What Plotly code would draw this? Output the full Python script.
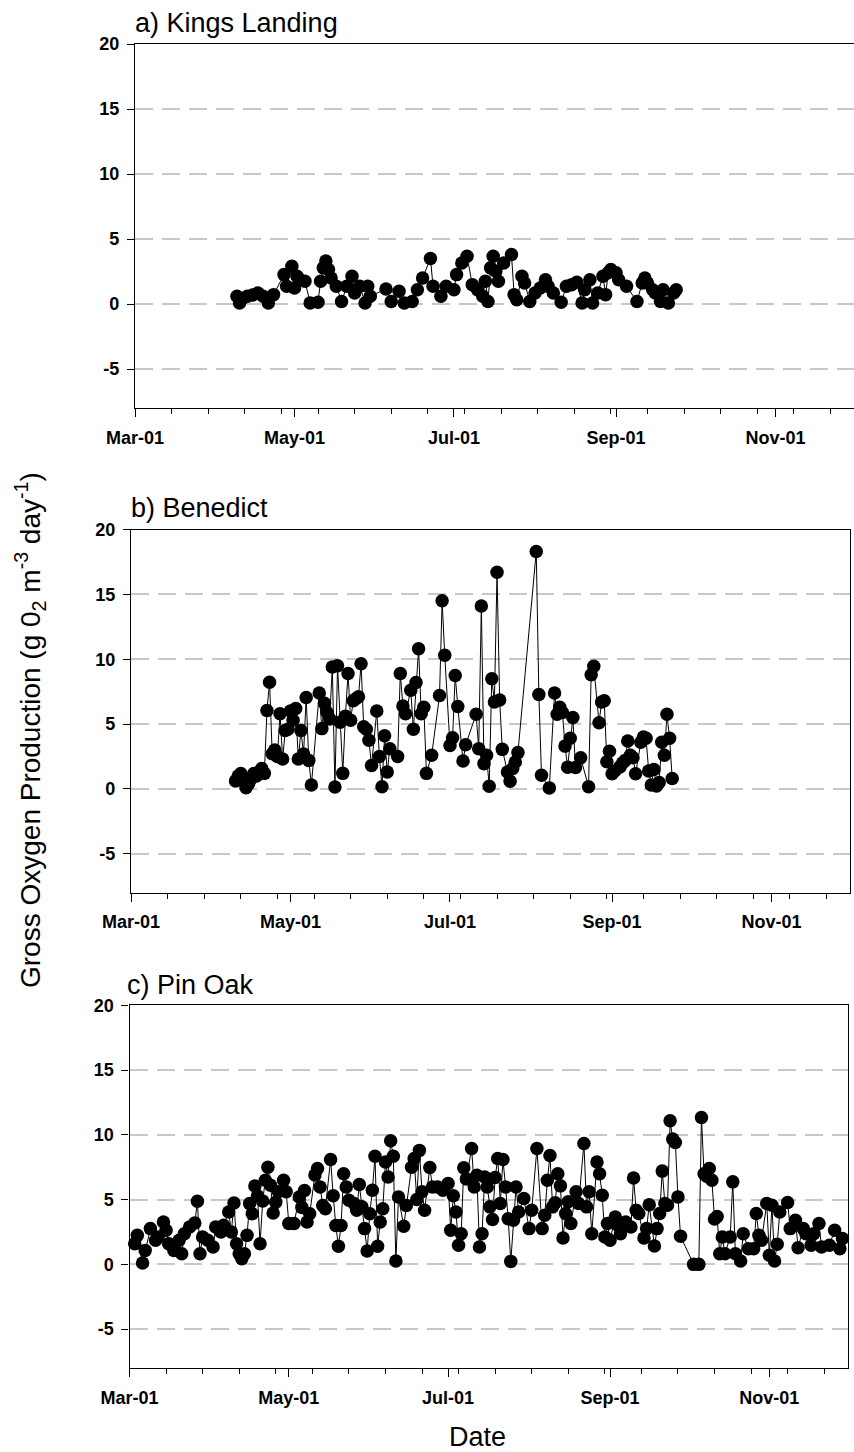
import pandas as pd
import plotly.graph_objects as go

# ---------------- data (day offset from Mar-01, GOP value) ----------------
kl_day = [39, 40, 41, 43, 45, 47, 49, 51, 53,
          57, 58, 60, 61, 62, 63, 65, 67,
          70, 71, 72, 73, 74, 75, 77, 79,
          81, 83, 84, 86, 88, 89, 90,
          96, 98, 101, 103, 106, 108, 110, 113, 114,
          117, 119, 122, 123, 125, 127, 129, 131,
          133, 134, 135, 136, 137, 138, 139, 141,
          144, 145, 146, 148, 149, 151, 153, 155,
          157, 158, 160, 163, 165, 167, 169, 171,
          172, 174, 175, 177, 179, 180, 181, 182,
          184, 185, 188, 192, 194, 195, 196, 198,
          199, 201, 202, 204, 206, 207]
kl_gop = [0.6, 0.08, 0.4, 0.6, 0.7, 0.85, 0.6, 0.08, 0.72,
          2.26, 1.36, 2.9, 1.23, 2.13, 1.87, 1.75, 0.08,
          0.13, 1.75, 2.78, 3.3, 2.65, 2.0, 1.36, 0.2,
          1.36, 2.13, 0.85, 1.36, 0.08, 1.36, 0.6,
          1.16, 0.2, 0.98, 0.08, 0.2, 1.1, 2.0, 3.5, 1.36,
          0.6, 1.36, 1.1, 2.26, 3.16, 3.68, 1.49, 1.1,
          0.6, 1.75, 0.2, 2.78, 3.68, 2.52, 1.75, 3.16,
          3.8, 0.72, 0.33, 2.13, 1.62, 0.2, 0.85, 1.23,
          1.87, 1.36, 0.85, 0.13, 1.36, 1.49, 1.67, 0.08,
          1.1, 1.87, 0.08, 0.85, 2.13, 0.72, 2.4, 2.65,
          2.4, 1.87, 1.36, 0.2, 1.62, 2.0, 1.62, 1.1,
          0.85, 0.2, 1.1, 0.08, 0.85, 1.1]

bn_day = [40, 41, 42, 43, 44, 45, 46, 47, 48, 49, 50, 51,
          52, 53, 54, 55, 56, 57, 58, 59, 60, 61, 62, 63,
          64, 65, 66, 67, 68, 69, 72, 73, 74, 75, 76, 77,
          78, 79, 80, 81, 82, 83, 84, 85, 86, 87, 88, 89,
          90, 91, 92, 94, 95, 96, 97, 98, 99, 102, 103, 104,
          105, 107, 108, 109, 110, 111, 112, 113, 115, 118, 119, 120,
          122, 123, 124, 125, 127, 128, 132, 133, 134, 135, 136, 137,
          138, 139, 140, 141, 142, 144, 145, 146, 147, 148, 155, 156,
          157, 160, 162, 163, 164, 165, 166, 167, 168, 169, 170, 172,
          175, 176, 177, 179, 180, 181, 182, 183, 184, 185, 187, 188,
          189, 190, 191, 192, 193, 195, 196, 197, 198, 199, 200, 201,
          202, 203, 204, 205, 206, 207]
bn_gop = [0.62, 1.0, 1.18, 0.6, 0.1, 0.41, 0.8, 1.18, 1.0, 1.3, 1.57, 1.2,
          6.05, 8.23, 2.72, 3.0, 2.5, 5.8, 2.3, 4.5, 4.6, 6.0, 5.3, 6.2,
          2.3, 4.5, 2.7, 7.05, 2.2, 0.3, 7.4, 4.65, 6.6, 5.9, 5.4, 9.4,
          0.15, 9.5, 5.15, 1.2, 5.6, 8.9, 5.3, 6.8, 6.95, 7.1, 9.65, 4.8,
          4.6, 3.75, 1.8, 6.0, 2.5, 0.17, 4.1, 1.3, 3.1, 2.5, 8.9, 6.4,
          5.8, 7.6, 4.6, 8.2, 10.8, 5.8, 6.3, 1.2, 2.6, 7.2, 14.5, 10.3,
          3.35, 3.95, 8.75, 6.35, 2.15, 3.4, 5.75, 3.1, 14.1, 1.95, 2.6, 0.2,
          8.5, 6.7, 16.7, 6.85, 3.05, 1.3, 0.6, 1.57, 2.08, 2.8, 18.3, 7.28,
          1.05, 0.08, 7.4, 5.75, 6.3, 5.9, 3.3, 1.68, 3.9, 5.5, 1.65, 2.4,
          0.16, 8.8, 9.45, 5.1, 6.7, 6.8, 2.1, 2.9, 1.17, 1.38, 1.7, 2.0,
          2.2, 3.7, 2.6, 2.4, 1.17, 3.6, 4.0, 3.9, 1.38, 0.3, 1.5, 0.22,
          0.5, 3.6, 2.6, 5.75, 3.9, 0.8]

po_day = [2, 3, 5, 6, 8, 10, 11, 13, 14, 15, 17, 19,
          20, 21, 23, 25, 26, 27, 28, 30, 32, 33, 35, 36,
          38, 39, 40, 41, 42, 43, 44, 45, 46, 47, 48, 49,
          50, 51, 52, 53, 54, 55, 56, 57, 59, 60, 61, 63,
          65, 66, 67, 68, 69, 71, 72, 73, 74, 75, 77, 78,
          79, 80, 81, 82, 83, 84, 86, 87, 88, 89, 90, 91,
          92, 93, 94, 95, 96, 97, 98, 99, 100, 101, 102, 103,
          105, 106, 108, 109, 110, 111, 112, 113, 115, 116, 118, 120,
          122, 123, 124, 125, 126, 127, 128, 129, 131, 132, 133, 134,
          135, 136, 137, 138, 139, 140, 141, 142, 143, 144, 145, 146,
          147, 148, 149, 151, 153, 154, 156, 158, 159, 160, 161, 162,
          163, 164, 165, 166, 167, 168, 169, 171, 172, 174, 175, 176,
          177, 179, 180, 181, 182, 183, 184, 186, 187, 188, 190, 192,
          193, 194, 195, 197, 198, 199, 201, 202, 203, 204, 205, 206,
          207, 208, 209, 210, 211, 216, 218, 219, 220, 221, 222, 223,
          224, 225, 226, 227, 228, 230, 231, 232, 234, 235, 237, 239,
          240, 241, 242, 244, 245, 246, 247, 248, 249, 252, 253, 255,
          256, 258, 259, 261, 262, 264, 265, 268, 270, 272, 273]
po_gop = [1.6, 2.24, 0.1, 1.08, 2.76, 1.86, 2.11, 3.27, 2.63, 1.6, 1.08, 1.86,
          0.82, 2.37, 2.89, 3.2, 4.87, 0.82, 2.11, 1.86, 1.35, 2.89, 2.5, 3.02,
          4.05, 2.5, 4.74, 1.6, 0.82, 0.44, 0.82, 2.24, 4.69, 3.91, 6.05, 5.3,
          1.6, 4.9, 6.5, 7.5, 6.1, 3.96, 4.8, 5.6, 6.5, 5.6, 3.15, 3.15,
          5.2, 4.4, 5.7, 3.27, 3.9, 6.9, 7.4, 5.97, 4.55, 4.3, 8.1, 5.3,
          3.0, 1.4, 3.0, 7.0, 5.97, 4.95, 4.7, 4.18, 6.16, 4.44, 2.76, 1.03,
          3.91, 5.72, 8.35, 1.4, 3.27, 4.3, 7.9, 6.75, 9.54, 8.35, 0.26, 5.2,
          2.94, 4.55, 7.5, 8.17, 5.0, 8.8, 5.6, 4.18, 7.48, 5.97, 5.97, 5.72,
          6.25, 2.63, 5.3, 4.05, 1.47, 2.37, 7.45, 6.6, 8.95, 5.97, 6.88, 1.34,
          2.37, 6.75, 5.97, 4.44, 3.46, 6.7, 8.18, 4.7, 8.1, 5.97, 3.53, 0.23,
          3.4, 5.97, 4.05, 5.08, 2.76, 4.18, 8.95, 2.76, 3.79, 6.5, 8.4, 4.44,
          4.75, 7.0, 6.06, 2.04, 3.92, 4.83, 3.15, 5.6, 4.7, 9.33, 4.44, 5.6,
          2.37, 7.9, 7.0, 5.34, 2.11, 3.15, 1.86, 3.66, 3.02, 2.37, 3.27, 2.89,
          6.67, 4.18, 3.92, 2.04, 2.76, 4.6, 1.42, 2.76, 3.92, 7.2, 4.7, 4.57,
          11.08, 9.67, 9.41, 5.21, 2.17, 0.0, 0.0, 11.34, 7.0, 6.8, 7.4, 6.5,
          3.5, 3.7, 0.82, 2.11, 0.82, 2.11, 6.37, 0.82, 0.26, 2.37, 1.21, 1.21,
          3.92, 2.24, 1.86, 4.7, 0.7, 4.57, 0.26, 1.55, 4.05, 4.77, 2.76, 3.4,
          1.29, 2.76, 2.37, 1.47, 2.37, 3.15, 1.34, 1.47, 2.63, 1.21, 1.99]

month_ticks = ["2007-03-01", "2007-05-01", "2007-07-01", "2007-09-01", "2007-11-01"]
month_labels = ["Mar-01", "May-01", "Jul-01", "Sep-01", "Nov-01"]
y_ticks = [-5, 0, 5, 10, 15, 20]
y_labels = ["-5", "0", "5", "10", "15", "20"]
panel_titles = ["a) Kings Landing", "b) Benedict", "c) Pin Oak"]

# ---------------- layout geometry (pixels) ----------------
W, H = 854, 1452
BASE = pd.Timestamp("2007-03-01")
X_RANGE = ["2007-03-01", "2007-12-01"]
minor_ticks = [str((BASE + pd.Timedelta(days=14 * k)).date()) for k in range(1, 20)]

FONT = "Liberation Sans, Arial, Helvetica, sans-serif"

# (left, right, top, bottom, title_left, title_mid_y, right_border)
geo = [
    (135, 854, 44.0, 408.0, 133, 23, False),
    (131, 850, 529.5, 892.7, 129, 508, True),
    (129.5, 847.7, 1005.3, 1368.0, 125, 985, True),
]
series = [(kl_day, kl_gop), (bn_day, bn_gop), (po_day, po_gop)]

fig = go.Figure()
layout = dict(
    width=W, height=H,
    margin=dict(l=0, r=0, t=0, b=0),
    paper_bgcolor="white", plot_bgcolor="white",
    showlegend=False,
    annotations=[],
)

for i, ((days, vals), (x0, x1, top, bot, tx, ty, rb)) in enumerate(zip(series, geo)):
    sfx = "" if i == 0 else str(i + 1)
    dates = [BASE + pd.Timedelta(days=d) for d in days]
    fig.add_trace(go.Scatter(
        x=dates, y=vals, mode="lines+markers",
        xaxis="x" + sfx, yaxis="y" + sfx,
        line=dict(color="black", width=1),
        marker=dict(color="black", size=13.5, symbol="circle", line=dict(width=0)),
        hoverinfo="skip", cliponaxis=False,
    ))
    layout["xaxis" + sfx] = dict(
        domain=[x0 / W, x1 / W], anchor="y" + sfx, type="date", range=X_RANGE,
        tickmode="array", tickvals=month_ticks, ticktext=month_labels,
        ticks="outside", ticklen=8, tickwidth=1.3, tickcolor="black",
        ticklabelstandoff=5,
        showline=True, linecolor="black", linewidth=1.3, mirror=True,
        showgrid=False, zeroline=False, automargin=False,
        tickfont=dict(family=FONT, size=18, color="black", weight="bold"),
        minor=dict(tickmode="array", tickvals=minor_ticks, ticks="outside",
                   ticklen=5, tickwidth=1.3, tickcolor="black", showgrid=False),
    )
    layout["yaxis" + sfx] = dict(
        domain=[1 - bot / H, 1 - top / H], anchor="x" + sfx, range=[-8, 20],
        tickmode="array", tickvals=y_ticks, ticktext=y_labels,
        ticks="outside", ticklen=7, tickwidth=1.3, tickcolor="black",
        ticklabelstandoff=4,
        showline=True, linecolor="black", linewidth=1.3, mirror=rb,
        showgrid=True, gridcolor="#c8c8c8", gridwidth=1.5, griddash="18px,9px",
        zeroline=False, automargin=False,
        tickfont=dict(family=FONT, size=18, color="black", weight="bold"),
    )
    layout["annotations"].append(dict(
        text=panel_titles[i], xref="paper", yref="paper",
        x=tx / W, y=1 - ty / H, xanchor="left", yanchor="middle",
        showarrow=False, font=dict(family=FONT, size=27, color="black"),
    ))

layout["annotations"].append(dict(
    text="Gross Oxygen Production (g 0<sub>2</sub> m<sup>-3</sup> day<sup>-1</sup>)",
    xref="paper", yref="paper", x=30 / W, y=1 - 730 / H,
    xanchor="center", yanchor="middle", textangle=-90, showarrow=False,
    font=dict(family=FONT, size=28, color="black"),
))
layout["annotations"].append(dict(
    text="Date", xref="paper", yref="paper", x=478 / W, y=1 - 1437 / H,
    xanchor="center", yanchor="middle", showarrow=False,
    font=dict(family=FONT, size=27, color="black"),
))

fig.update_layout(**layout)
fig.write_html("out.html")
